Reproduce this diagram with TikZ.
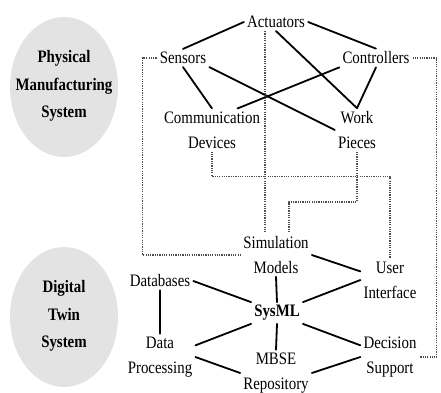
\documentclass[tikz,border=0pt]{standalone}
\usepackage{fontspec}
\setmainfont[FakeStretch=0.85]{Liberation Serif}
\usetikzlibrary{calc}
\begin{document}
\begin{tikzpicture}[x=1pt,y=-1pt,line join=round,line cap=round,
		font=\fontsize{17.5}{25}\selectfont,
		txt/.style={inner sep=3pt,align=center},
		systxt/.style={inner sep=0pt,align=center,font=\fontsize{17.5}{27.5}\selectfont\bfseries},
		tie/.style={line width=1.8pt},
		link/.style={line width=1.4pt,line cap=butt,dash pattern=on 1.2pt off 1.1pt,black!70}]
		\useasboundingbox (0,0) rectangle (441,392);
		% Hai hệ thống
		\fill[gray!22] (64,87) ellipse [x radius=54,y radius=70];
		\fill[gray!22] (64,317) ellipse [x radius=54,y radius=70];
		\node[systxt] (pms) at (64,86) {Physical\\Manufacturing\\System};
		\node[systxt] (dts) at (64,316) {Digital\\Twin\\System};
		% Phần vật lý
		\node[txt] (act) at (276,22) {Actuators};
		\node[txt] (sen) at (183,58) {Sensors};
		\node[txt] (ctl) at (376,58) {Controllers};
		\node[txt] (cd) at (212,130) {Communication\\Devices};
		\node[txt] (wp) at (357,130) {Work\\Pieces};
		% Phần số
		\node[txt] (sm) at (276,255) {Simulation\\Models};
		\node[txt] (ui) at (390,280) {User\\Interface};
		\node[txt] (db) at (160,281) {Databases};
		\node[txt,font=\fontsize{17.5}{25}\selectfont\bfseries] (sml) at (277,313) {SysML};
		\node[txt] (dp) at (160,357) {Data\\Processing};
		\node[txt] (mb) at (276,373) {MBSE\\Repository};
		\node[txt] (ds) at (390,357) {Decision\\Support};
		\draw[tie] (act.west)--(sen.north);
		\draw[tie] (act.east)--(ctl.north);
		\draw[tie] (act.south)--(wp.north);
		\draw[tie] (sen.south)--(cd.north);
		\draw[tie] (sen.south east)--(wp.west);
		\draw[tie] (ctl.south west)--($(cd.north)!.5!(cd.north east)$);
		\draw[tie] (ctl.south)--(wp.north);
		\draw[tie] (sm.east)--($(ui.west)!.4!(ui.north west)$);
		\draw[tie] (sm.south)--(sml.north);
		\draw[tie] (sml.north east)--(ui.west);
		\draw[tie] (db.east)--(sml.north west);
		\draw[tie] (db.south)--(dp.north);
		\draw[tie] (sml.south west)--($(dp.east)!.5!(dp.north east)$);
		\draw[tie] (sml.south)--(mb.north);
		\draw[tie] (sml.south east)--($(ds.west)!.5!(ds.north west)$);
		\draw[tie] (dp.east)--(mb.west);
		\draw[tie] (mb.east)--(ds.west);
		% Liên kết chấm
		\draw[link] (sen.west)--++(-14,0) |- (sm.west);
		\draw[link] (ctl.east)--++(24,0) |- (ds.east);
		\draw[link] ([xshift=-11pt]act.south)--([xshift=-11pt]sm.north);
		\draw[link] (cd.south)--++(0,25) -| (ui.north);
		\draw[link] (wp.south)--++(0,50) -| ([xshift=13pt]sm.north);
\end{tikzpicture}
\end{document}
